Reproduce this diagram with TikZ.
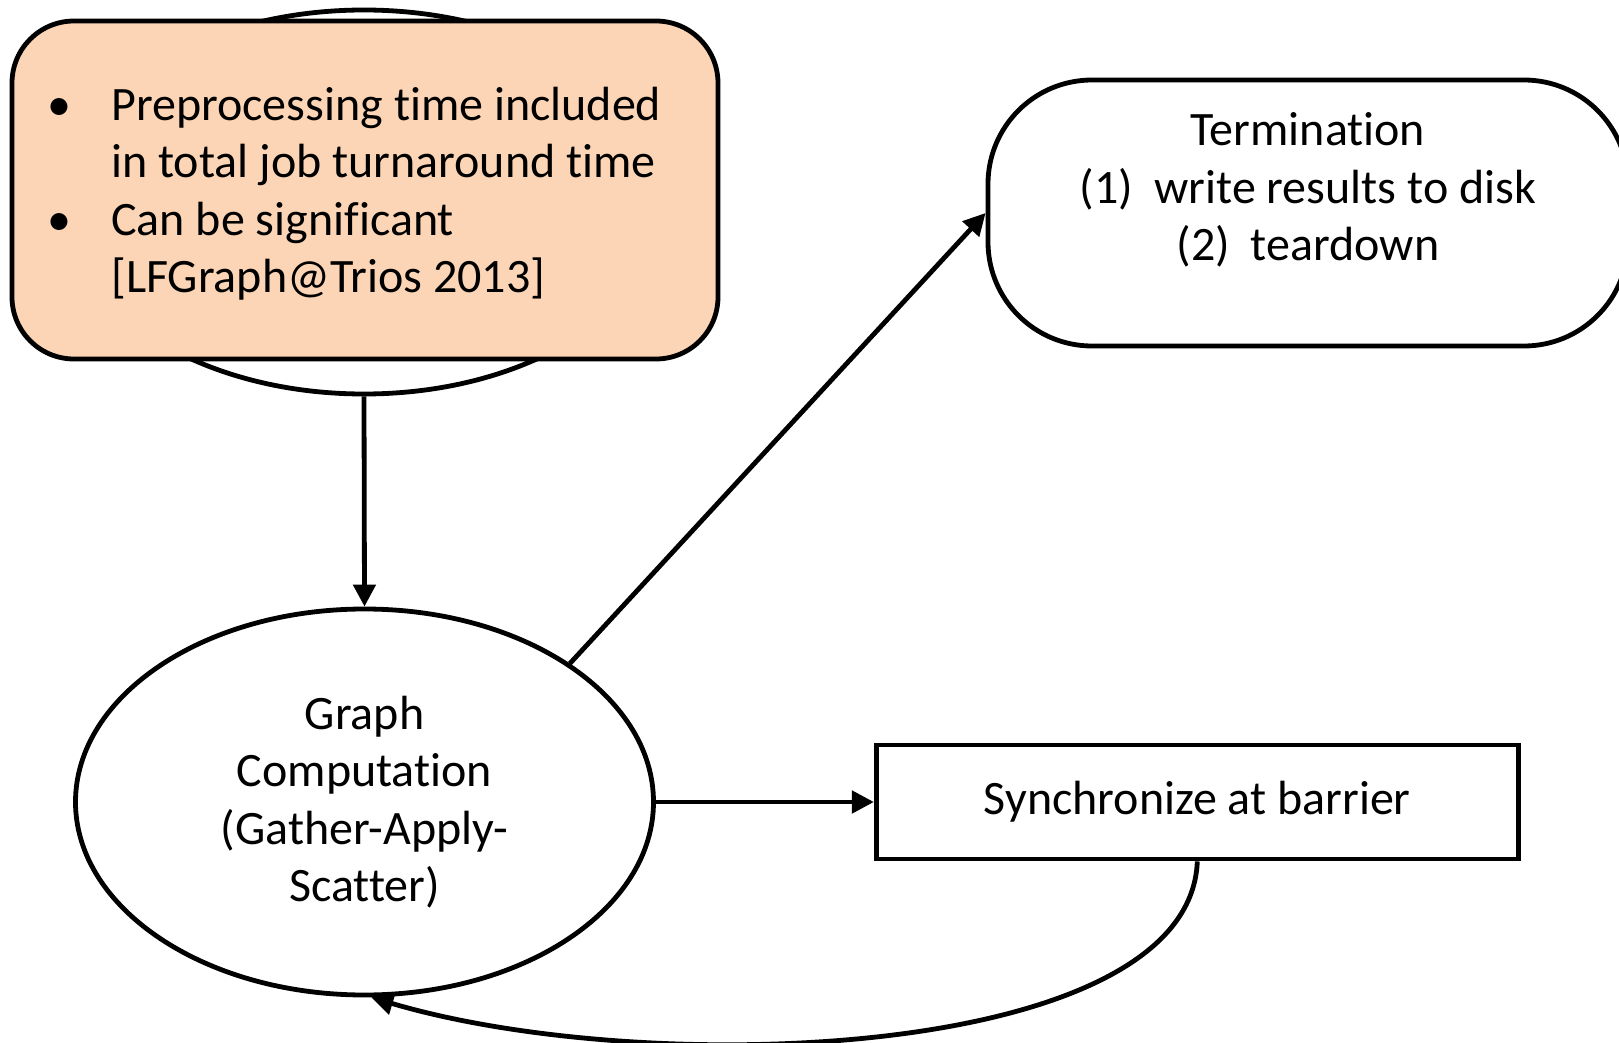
\documentclass[tikz,border=0pt]{standalone}
\usepackage{fontspec}
\setmainfont{Carlito}[Ligatures=NoCommon]
\usetikzlibrary{positioning,arrows.meta,shapes.geometric}
\definecolor{peach}{RGB}{251,213,181}

\begin{document}
\begin{tikzpicture}[
  x=0.5pt, y=-0.5pt,
  every node/.style={font=\fontsize{24}{28.7}\selectfont},
  blob/.style={ellipse, draw, line width=2.4pt, fill=white, inner sep=0pt, align=center},
  notebox/.style={rectangle, draw, line width=2.4pt, fill=peach, rounded corners=31pt, minimum width=353pt, minimum height=169pt},
  termbox/.style={rectangle, draw, line width=2.4pt, rounded corners=52pt, minimum width=320pt, minimum height=133pt},
  syncbox/.style={rectangle, draw, line width=2.4pt, minimum width=321pt, minimum height=57pt},
  plain/.style={inner sep=0pt, align=center},
  arrow/.style={-{Triangle[length=11pt,width=11pt]}, line width=2.4pt}
  ]
  \useasboundingbox (0,0) rectangle (1619,1043);

  % Preprocessing: ellipse hidden behind the note
  \node[blob, minimum width=300pt, minimum height=192pt] (pre) at (364,202) {};
  \node[notebox] (note) at (365,190) {};
  \node[plain, anchor=west] (notetext) at (47,195) {%
    \begin{tabular}{@{}l@{\hspace{20pt}}l@{}}
      \textbullet & Preprocessing time included\\
                  & in total job turnaround time\\
      \textbullet & Can be significant\\
                  & [LFGraph@Trios 2013]
    \end{tabular}};

  % Computation, barrier and termination
  \node[blob, minimum width=289pt, minimum height=193pt] (graph) at (364.5,802)
    {Graph\\Computation\\(Gather-Apply-\\Scatter)};
  \node[syncbox, right=109pt of graph] (sync) {Synchronize at barrier};
  \node[termbox] (term) at (1308,213) {};
  \node[plain] (termtext) at (1308,190)
    {Termination\\(1)\hspace{10.5pt}write results to disk\\(2)\hspace{10.5pt}teardown};

  \draw[arrow] (pre.south) -- (graph.north);
  \draw[arrow] (graph.34) -- (term.west);
  \draw[arrow] (graph.east) -- (sync.west);
  \draw[arrow] (sync.south) .. controls (1190,1060) and (650,1080) .. (graph.-88);
\end{tikzpicture}
\end{document}
